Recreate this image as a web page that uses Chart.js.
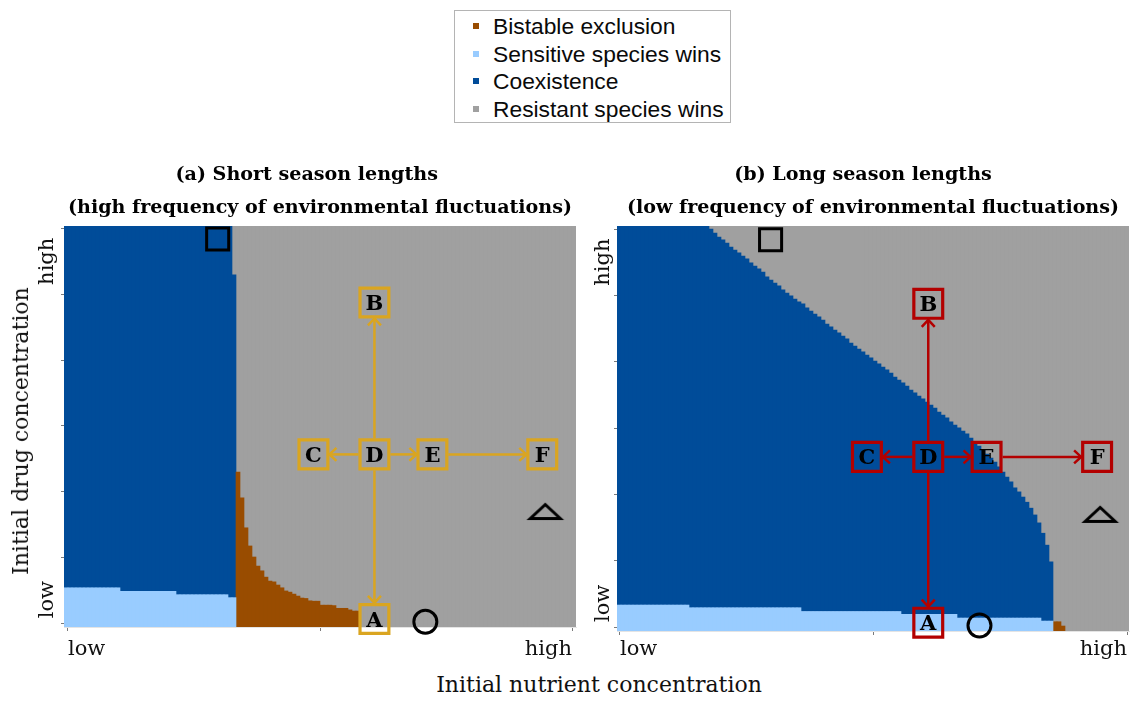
<!DOCTYPE html>
<html>
<head>
<meta charset="utf-8">
<script src="https://cdn.jsdelivr.net/npm/chart.js@4.4.1/dist/chart.umd.min.js"></script>
<style>
  html, body { margin: 0; padding: 0; background: #fff; }
  body { width: 1137px; height: 701px; position: relative; overflow: hidden; font-family: "DejaVu Serif", serif; color: #111; }
  canvas { position: absolute; }
  #legend { position: absolute; left: 454px; top: 10px; width: 275px; height: 111px; border: 1px solid #b4b4b4; background: #fff;
            font-family: "Liberation Sans", Arial, sans-serif; font-size: 22.8px; color: #0a0a0a; }
  #legend .row { position: absolute; left: 0; height: 26px; line-height: 26px; white-space: nowrap; }
  #legend .sw { position: absolute; left: 18px; top: 10px; width: 6px; height: 6px; }
  #legend .lt { position: absolute; left: 38px; top: 0; }
  #xtitle { position: absolute; left: 599px; top: 674px; transform: translateX(-50%); font-size: 22px; line-height: 22px; white-space: nowrap; }
  #ytitle { position: absolute; left: 21px; top: 431px; transform: translate(-50%, -50%) rotate(-90deg); font-size: 22px; line-height: 22px; white-space: nowrap; }
</style>
</head>
<body>
<div id="legend"></div>
<canvas id="panelA" width="590" height="530" style="left:0;top:140px"></canvas>
<canvas id="panelB" width="547" height="530" style="left:590px;top:140px"></canvas>
<div id="ytitle">Initial drug concentration</div>
<div id="xtitle">Initial nutrient concentration</div>

<script>
// ---- outcome categories ----
const outcomeNames  = ['Bistable exclusion', 'Sensitive species wins', 'Coexistence', 'Resistant species wins'];
const outcomeColors = ['#994c00', '#99ccff', '#004c99', '#a0a0a0'];

// ---- axis ticks (0 = low, 1 = high) ----
const xTickValues = [0, 0.5, 1];
const xTickLabels = ['low', '', 'high'];
const yTickValues = [0, 0.1667, 0.3333, 0.5, 0.6667, 0.8333, 1];
const yTickLabels = ['low', '', '', '', '', '', 'high'];

// ---- panel (a): region boundaries per nutrient column (128 columns) ----
// upper edge of "sensitive species wins" (columns not listed: none)
const sensitiveTopA = [
  0.090,0.090,0.090,0.090,0.090,0.090,0.090,0.090,0.090,0.090,0.090,0.090,0.090,0.090,
  0.081,0.081,0.081,0.081,0.081,0.081,0.081,0.081,0.081,0.081,0.081,0.081,0.081,0.081,
  0.0725,0.0725,0.0725,0.0725,0.0725,0.0725,0.0725,0.0725,0.0725,0.0725,0.0725,0.0725,0.0725,
  0.065,0.065
];
// upper edge of "bistable exclusion"
const bistableTopA = [
  null,null,null,null,null,null,null,null,null,null,null,null,null,null,null,null,null,null,null,null,
  null,null,null,null,null,null,null,null,null,null,null,null,null,null,null,null,null,null,null,null,
  null,null,null,
  0.383,0.318,0.242,0.196,0.168,0.145,0.133,0.117,0.107,0.105,0.097,0.090,0.082,0.079,0.074,0.069,
  0.064,0.063,0.057,0.056,0.056,0.046,0.046,0.046,0.045,0.038,0.038,0.038,0.034,0.031,0.031
];
// upper edge of "coexistence"
const coexTopA = [
  1.01,1.01,1.01,1.01,1.01,1.01,1.01,1.01,1.01,1.01,1.01,1.01,1.01,1.01,1.01,1.01,1.01,1.01,1.01,1.01,
  1.01,1.01,1.01,1.01,1.01,1.01,1.01,1.01,1.01,1.01,1.01,1.01,1.01,1.01,1.01,1.01,1.01,1.01,1.01,1.01,
  1.01,1.01,0.883
];

// ---- panel (b): region boundaries per nutrient column (128 columns) ----
const sensitiveTopB = [
  0.0553,0.0553,0.0553,0.0553,0.0553,0.0553,0.0553,0.0553,0.0553,0.0553,0.0553,0.0553,0.0553,0.0553,0.0553,0.0553,0.0553,0.0553,
  0.0486,0.0486,0.0486,0.0486,0.0486,0.0486,0.0486,0.0486,0.0486,0.0486,0.0486,0.0486,0.0486,0.0486,
  0.0486,0.0486,0.0486,0.0486,0.0486,0.0486,0.0486,0.0486,0.0486,0.0486,0.0486,0.0486,0.0486,0.0486,
  0.039,0.039,0.039,0.039,0.039,0.039,0.039,0.039,0.039,0.039,0.039,0.039,0.039,
  0.039,0.039,0.039,0.039,0.039,0.039,0.039,0.039,0.039,0.039,0.039,0.039,
  0.032,0.032,0.032,0.032,0.032,0.032,0.032,0.032,0.032,0.032,0.032,0.032,0.032,0.032,
  0.0226,0.0226,0.0226,0.0226,0.0226,0.0226,0.0226,0.0226,0.0226,0.0226,0.0226,
  0.0226,0.0226,0.0226,0.0226,0.0226,0.0226,0.0226,0.0226,0.0226,0.0226,
  0.015,0.015,0.015
];
const bistableTopB = [
  null,null,null,null,null,null,null,null,null,null,null,null,null,null,null,null,null,null,null,null,
  null,null,null,null,null,null,null,null,null,null,null,null,null,null,null,null,null,null,null,null,
  null,null,null,null,null,null,null,null,null,null,null,null,null,null,null,null,null,null,null,null,
  null,null,null,null,null,null,null,null,null,null,null,null,null,null,null,null,null,null,null,null,
  null,null,null,null,null,null,null,null,null,null,null,null,null,null,null,null,null,null,null,null,
  null,null,null,null,null,null,null,null,null,
  0.0133,0.0133,0.0025
];
const coexTopB = [
  1.01,1.01,1.01,1.01,1.01,1.01,1.01,1.01,1.01,1.01,1.01,1.01,1.01,1.01,1.01,1.01,1.01,1.01,1.01,1.01,
  1.01,1.01,1.01,
  1.001,0.991,0.981,0.974,0.966,0.956,0.948,0.941,0.933,0.926,0.916,0.908,0.901,0.893,0.881,0.873,0.865,
  0.858,0.848,0.840,0.833,0.825,0.818,0.813,0.803,0.795,0.787,0.780,0.772,0.762,0.755,0.747,0.740,0.732,
  0.725,0.714,0.707,0.699,0.692,0.684,0.677,0.669,0.662,0.654,0.647,0.639,0.629,0.621,0.614,0.606,0.596,
  0.589,0.581,0.574,0.566,0.558,0.551,0.541,0.533,0.526,0.516,0.508,0.501,0.493,0.486,0.475,0.465,0.455,
  0.445,0.435,0.425,0.415,0.403,0.390,0.377,0.365,0.350,0.340,0.327,0.314,0.299,0.282,0.262,0.236,0.206,
  0.164
];

// ---- scenario markers (shared by both panels) ----
const markerNames = ['A', 'B', 'C', 'D', 'E', 'F'];
const markerX     = [0.608, 0.608, 0.487, 0.608, 0.723, 0.941];
const markerY     = [0.011, 0.813, 0.428, 0.428, 0.428, 0.428];
const arrowPairs  = [['D', 'B'], ['D', 'A'], ['D', 'C'], ['D', 'E'], ['E', 'F']];
const squareX = [0.297],  squareY = [0.974];
const circleX = [0.709],  circleY = [0.004];
const triangleX = [0.947], triangleY = [0.282];

const COLUMNS = 128;
const SERIF = '"DejaVu Serif", serif';

// ---- legend ----
(function buildLegend() {
  const box = document.getElementById('legend');
  const rowTops = [2, 29.5, 57, 84.5];
  outcomeNames.forEach((name, i) => {
    const row = document.createElement('div');
    row.className = 'row';
    row.style.top = rowTops[i] + 'px';
    row.innerHTML = '<span class="sw" style="background:' + outcomeColors[i] + '"></span><span class="lt">' + name + '</span>';
    box.appendChild(row);
  });
})();

// stack the region bands of one column from the axis floor upward
function buildBands(sens, bist, coex, yMin, yMax) {
  const bands = { sens: [], bist: [], coex: [], resist: [] };
  for (let i = 0; i < COLUMNS; i++) {
    let lo = yMin;
    const seg = (arr, v) => {
      if (v == null) { arr.push(null); return; }
      const hi = Math.min(v, yMax);
      arr.push(hi > lo ? [lo, hi] : null);
      lo = hi;
    };
    seg(bands.sens, sens[i]);
    seg(bands.bist, bist[i]);
    seg(bands.coex, coex[i]);
    bands.resist.push(lo < yMax ? [lo, yMax] : null);
  }
  return bands;
}

// flat open triangle used as a point style
function makeTriangle() {
  const c = document.createElement('canvas');
  c.width = 40; c.height = 24;
  const g = c.getContext('2d');
  g.strokeStyle = '#000'; g.lineWidth = 3; g.lineJoin = 'miter';
  g.beginPath(); g.moveTo(20, 4.5); g.lineTo(35, 18.5); g.lineTo(5, 18.5); g.closePath(); g.stroke();
  return c;
}
const trianglePoint = makeTriangle();

// arrows between scenario boxes and the scenario letters
const scenarioPlugin = {
  id: 'scenarios',
  afterDatasetsDraw(chart, args, opts) {
    const ctx = chart.ctx, xs = chart.scales.xv, ys = chart.scales.y;
    const pos = name => {
      const i = markerNames.indexOf(name);
      return [xs.getPixelForValue(markerX[i]), ys.getPixelForValue(markerY[i])];
    };
    ctx.save();
    ctx.strokeStyle = opts.color; ctx.lineWidth = 2.5; ctx.lineCap = 'butt'; ctx.lineJoin = 'miter';
    const half = 16, headLen = 7, headW = 6.5;
    arrowPairs.forEach(([from, to]) => {
      const [x0, y0] = pos(from), [x1, y1] = pos(to);
      const len = Math.hypot(x1 - x0, y1 - y0), dx = (x1 - x0) / len, dy = (y1 - y0) / len;
      const sx = x0 + dx * half, sy = y0 + dy * half, tx = x1 - dx * half, ty = y1 - dy * half;
      ctx.beginPath(); ctx.moveTo(sx, sy); ctx.lineTo(tx, ty); ctx.stroke();
      ctx.beginPath();
      ctx.moveTo(tx - dx * headLen - dy * headW, ty - dy * headLen + dx * headW);
      ctx.lineTo(tx, ty);
      ctx.lineTo(tx - dx * headLen + dy * headW, ty - dy * headLen - dx * headW);
      ctx.stroke();
    });
    ctx.fillStyle = '#000';
    ctx.font = 'bold 21px ' + SERIF;
    ctx.textAlign = 'center'; ctx.textBaseline = 'alphabetic';
    markerNames.forEach(n => { const [x, y] = pos(n); ctx.fillText(n, x, y + 7.6); });
    ctx.restore();
  },
  afterDraw(chart, args, opts) {
    // rotated "low"/"high" labels along the drug axis
    const ctx = chart.ctx, ys = chart.scales.y;
    const last = yTickValues.length - 1;
    ctx.save();
    ctx.font = '21px ' + SERIF; ctx.fillStyle = '#111'; ctx.textBaseline = 'alphabetic';
    const x = chart.chartArea.left - opts.labelGap;
    yTickValues.forEach((v, i) => {
      const t = yTickLabels[i];
      if (!t) return;
      const y = ys.getPixelForValue(v);
      ctx.save();
      ctx.translate(x, i === 0 ? y - 5 : (i === last ? y + 9 : y));
      ctx.rotate(-Math.PI / 2);
      ctx.textAlign = i === 0 ? 'left' : (i === last ? 'right' : 'center');
      ctx.fillText(t, 0, 0);
      ctx.restore();
    });
    ctx.restore();
  }
};

function makePanel(canvasId, cfg) {
  const bands = buildBands(cfg.sens, cfg.bist, cfg.coex, cfg.yMin, cfg.yMax);
  const labels = Array.from({ length: COLUMNS }, (_, i) => i);
  const bar = (data, color, label) => ({
    type: 'bar', label, data, backgroundColor: color, borderWidth: 0, inflateAmount: 0.33,
    barPercentage: 1, categoryPercentage: 1, grouped: false, order: 10,
    xAxisID: 'x', yAxisID: 'y'
  });
  const pts = (xsArr, ysArr) => xsArr.map((x, i) => ({ x, y: ysArr[i] }));
  const marker = (data, style, radius, width, color) => ({
    type: 'scatter', data, pointStyle: style, pointRadius: radius, pointHoverRadius: radius,
    borderWidth: width, pointBorderWidth: width, borderColor: color, backgroundColor: 'rgba(0,0,0,0)',
    clip: false, order: 0, xAxisID: 'xv', yAxisID: 'y'
  });
  return new Chart(document.getElementById(canvasId), {
    type: 'bar',
    data: {
      labels,
      datasets: [
        marker(pts(markerX, markerY), 'rect', 20.4, 3.2, cfg.accent),
        marker(pts(squareX, squareY), 'rect', 15.6, 3, '#000'),
        marker(pts(circleX, circleY), 'circle', 11.5, 3, '#000'),
        marker(pts(triangleX, triangleY), trianglePoint, 12, 0, '#000'),
        bar(bands.sens, outcomeColors[1], outcomeNames[1]),
        bar(bands.bist, outcomeColors[0], outcomeNames[0]),
        bar(bands.coex, outcomeColors[2], outcomeNames[2]),
        bar(bands.resist, outcomeColors[3], outcomeNames[3])
      ]
    },
    options: {
      responsive: false, animation: false, devicePixelRatio: 1, events: [],
      layout: { autoPadding: false, padding: { left: 0, right: cfg.padRight, top: 0, bottom: 0 } },
      plugins: {
        legend: { display: false },
        tooltip: { enabled: false },
        title: {
          display: true, text: cfg.title, color: '#000', fullSize: false,
          font: { family: SERIF, weight: 'bold', size: 19.1, lineHeight: '33px' },
          padding: { top: 19, bottom: 1 }
        },
        scenarios: { color: cfg.accent, labelGap: cfg.labelGap }
      },
      scales: {
        x: { type: 'category', display: false, offset: true },
        xv: {
          type: 'linear', position: 'bottom', min: cfg.xMin, max: cfg.xMax, offset: false,
          afterBuildTicks: s => { s.ticks = xTickValues.map(v => ({ value: v })); },
          afterFit: s => { s.height = cfg.xAxisHeight; s.paddingLeft = 0; s.paddingRight = 0; },
          ticks: {
            autoSkip: false, maxRotation: 0, minRotation: 0, align: 'inner', padding: cfg.xLabelPad,
            color: '#111', font: { family: SERIF, size: 21 },
            callback: (v, i) => xTickLabels[i]
          },
          grid: { offset: false, drawOnChartArea: false, drawTicks: true, tickLength: 4, color: '#7a7a7a' },
          border: { display: true, color: '#e4e4e4' }
        },
        y: {
          type: 'linear', position: 'left', min: cfg.yMin, max: cfg.yMax,
          afterBuildTicks: s => { s.ticks = yTickValues.map(v => ({ value: v })); },
          afterFit: s => { s.width = cfg.yAxisWidth; },
          ticks: { display: false },
          grid: { drawOnChartArea: false, drawTicks: true, tickLength: 3, color: '#7a7a7a' },
          border: { display: false }
        }
      }
    },
    plugins: [scenarioPlugin]
  });
}

// the first title line carries trailing spaces so it sits a little left of centre
makePanel('panelA', {
  title: ['(a) Short season lengths    ', '(high frequency of environmental fluctuations)'],
  sens: sensitiveTopA, bist: bistableTopA, coex: coexTopA,
  accent: '#daa520',
  xMin: -0.0079, xMax: 1.0079, yMin: -0.0094, yMax: 1.0068,
  padRight: 14, yAxisWidth: 64, xAxisHeight: 43, xLabelPad: 6, labelGap: 11
});

makePanel('panelB', {
  title: ['(b) Long season lengths   ', '(low frequency of environmental fluctuations)'],
  sens: sensitiveTopB, bist: bistableTopB, coex: coexTopB,
  accent: '#b30000',
  xMin: -0.0059, xMax: 1.0039, yMin: -0.010, yMax: 1.0088,
  padRight: 8, yAxisWidth: 27, xAxisHeight: 39, xLabelPad: 2, labelGap: 8
});
</script>
</body>
</html>
